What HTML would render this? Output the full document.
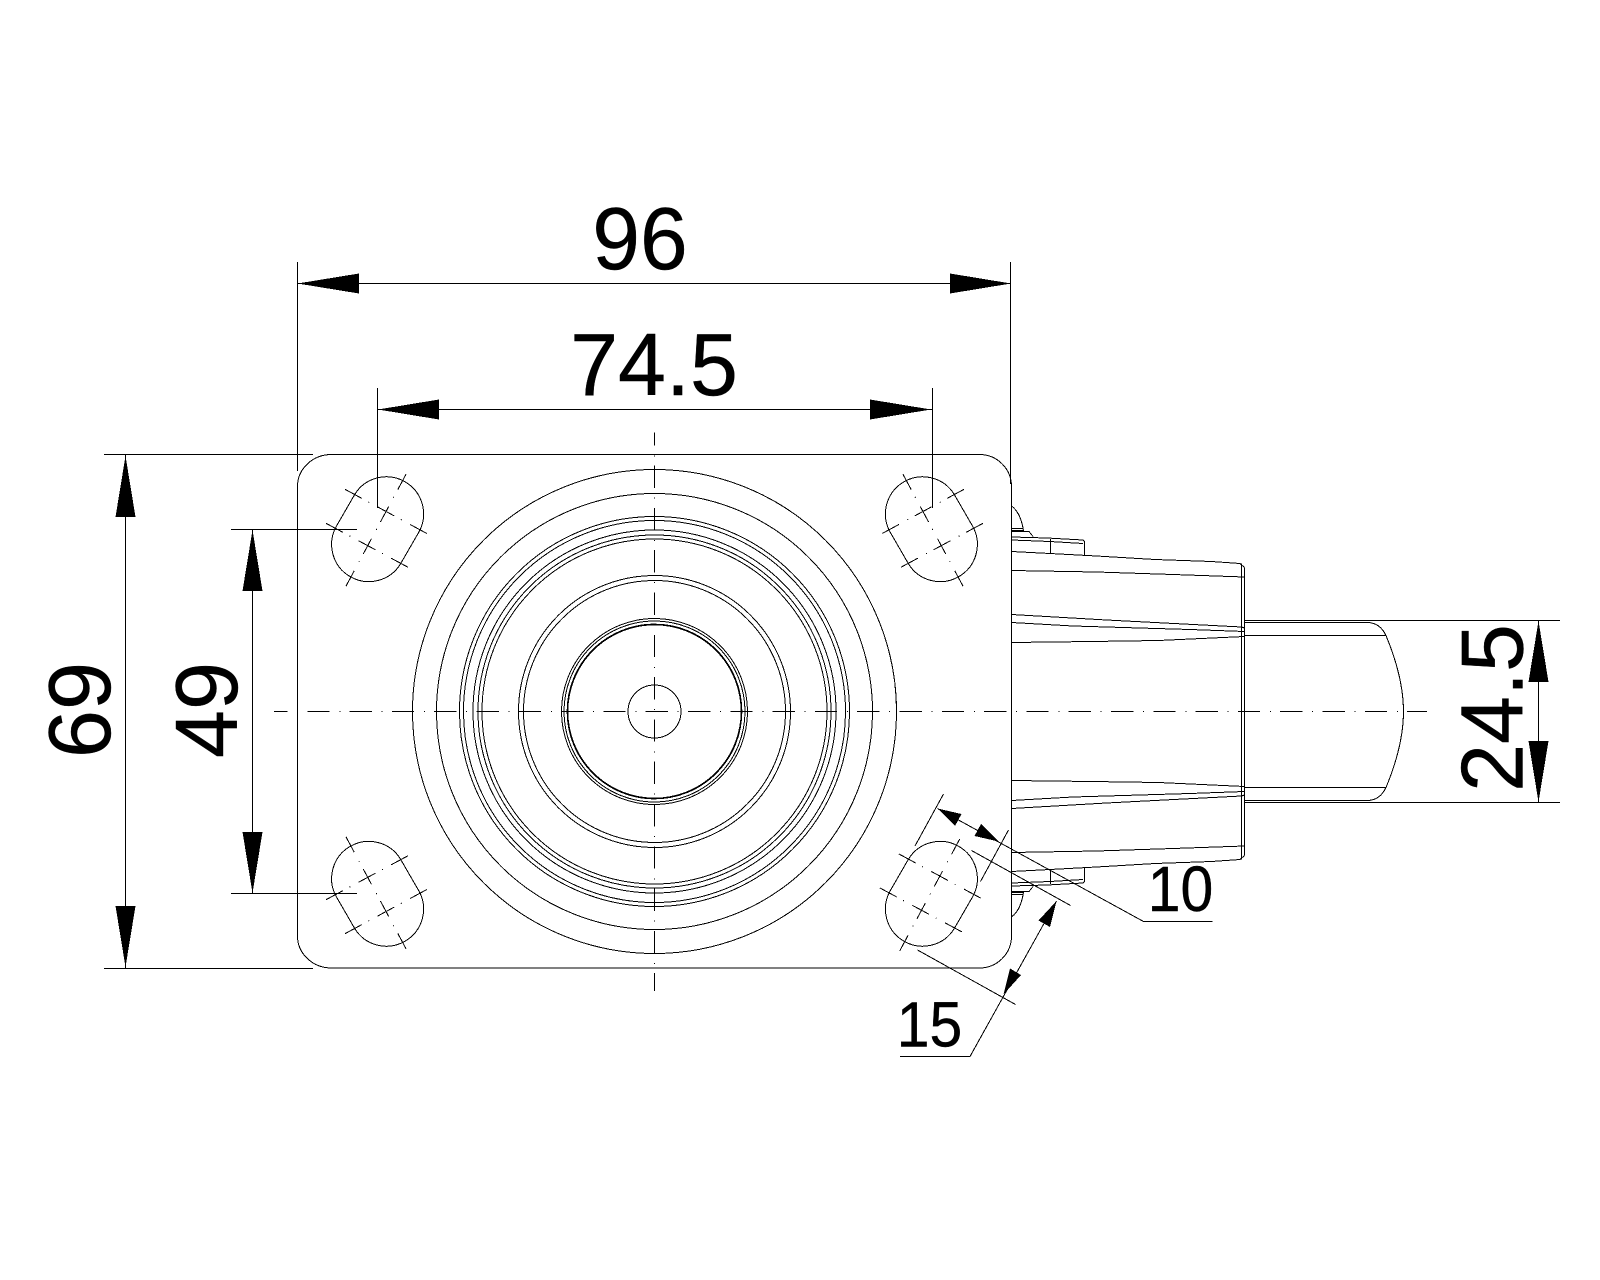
<!DOCTYPE html>
<html>
<head>
<meta charset="utf-8">
<style>
html,body{margin:0;padding:0;background:#fff;width:1600px;height:1280px;overflow:hidden}
svg{display:block}
text{font-family:"Liberation Sans",sans-serif;fill:#000;text-anchor:middle;stroke:#000;stroke-width:.4}
.l{fill:none;stroke:#000;stroke-width:1;shape-rendering:crispEdges}
.c{fill:none;stroke:#000;stroke-width:1;shape-rendering:crispEdges}
.a{fill:#000;stroke:none;shape-rendering:crispEdges}
</style>
</head>
<body>
<svg width="1600" height="1280" viewBox="0 0 1600 1280" xmlns="http://www.w3.org/2000/svg">
<rect width="1600" height="1280" fill="#fff"/>
<defs>
<g id="slot">
<path class="c" d="M-22.9,-34.7 A37.2,37.2 0 0 1 41.5,2.5 L22.9,34.7 A37.2,37.2 0 0 1 -41.5,-2.5 Z"/>
<path class="l" stroke-dasharray="17.5 8 1 10" d="M28.4,-54.9 L-31.9,57.5"/>
<path class="l" stroke-dasharray="19 7.5 1 9.5" d="M-32.6,-39.9 L50.7,5.1"/>
<path class="l" stroke-dasharray="19 7.5 1 9.5" d="M-51.6,-5.9 L32.4,39.1"/>
</g>
<g id="bracket">
<path class="c" d="M1011.5,506 Q1021,513 1023.5,531"/>
<path class="l" d="M1011.5,528.5 H1023.5 M1011.5,530.5 H1024 M1011.5,531.5 H1029 L1033,536.5"/>
<path class="l" d="M1011.5,537 L1047,538 L1083,540 L1084.5,541.5 V555"/>
<path class="l" d="M1011.5,540 L1050,541.5 L1083,543.5"/>
<path class="l" d="M1050.5,539 V553"/>
<path class="l" d="M1011.5,551.5 L1050,553.5 L1096.5,556 L1155,559.5 L1211.5,561.5 L1240,563.5 L1244.5,567.5"/>
<path class="l" d="M1011.5,570.5 L1096.5,572 L1173,574.5 L1244.5,577"/>
<path class="l" d="M1011.5,614.5 L1106.5,620 L1241.5,627 L1244.5,628"/>
<path class="l" d="M1011.5,622.5 L1073,626 L1190,629.5 L1244.5,631.5"/>
<path class="l" d="M1011.5,642.5 L1091.5,641.5 L1158.5,640.5 L1244.5,636.5"/>
<path class="l" d="M1244.5,620.5 H1560"/>
<path class="l" d="M1244.5,622.5 H1368"/>
<path class="l" d="M1244.5,635.5 H1386"/>
<path class="c" d="M1368,622.5 Q1380,623 1386,635.5 C1392,650 1403.5,680 1403.5,711.5"/>
</g>
</defs>

<!-- plate -->
<path class="c" d="M331.5,454.5 H979.5 A32,32 0 0 1 1011.5,486.5 V936 A32,32 0 0 1 979.5,968 H331.5 A34,32 0 0 1 297.5,936 V486.5 A34,32 0 0 1 331.5,454.5 Z"/>

<!-- wheel circles -->
<circle class="c" cx="654.5" cy="711.5" r="242"/>
<circle class="c" cx="654.5" cy="711.5" r="218"/>
<circle class="c" cx="654.5" cy="711.5" r="195"/>
<circle class="c" cx="654.5" cy="711.5" r="191"/>
<circle class="c" cx="654.5" cy="711.5" r="181.5"/>
<circle class="c" cx="654.5" cy="711.5" r="176.5"/>
<circle class="c" cx="654.5" cy="711.5" r="172.5"/>
<circle class="c" cx="654.5" cy="711.5" r="136"/>
<circle class="c" cx="654.5" cy="711.5" r="131"/>
<circle class="c" cx="654.5" cy="711.5" r="93"/>
<circle class="c" cx="654.5" cy="711.5" r="90.5"/>
<circle class="c" cx="654.5" cy="711.5" r="87" style="stroke-width:1.7"/>
<circle class="c" cx="654.5" cy="711.5" r="26.5"/>

<!-- slots -->
<use href="#slot" transform="translate(377.6,529.2)"/>
<use href="#slot" transform="translate(931.4,529.2) scale(-1,1)"/>
<use href="#slot" transform="translate(377.6,893.8) scale(1,-1)"/>
<use href="#slot" transform="translate(931.4,893.8)"/>

<!-- fork / bracket -->
<use href="#bracket"/>
<use href="#bracket" transform="translate(0,1423) scale(1,-1)"/>
<path class="l" d="M1241.5,563.5 V859.5 M1244.5,567.5 V855.5"/>

<!-- centre lines -->
<path class="l" stroke-dasharray="22.3 9.7 1 9.3" stroke-dashoffset="9" d="M274,711.5 H1427"/>
<path class="l" stroke-dasharray="22.3 9.7 1 9.3" stroke-dashoffset="9" d="M654.5,432.3 V991"/>

<!-- dim 96 -->
<path class="l" d="M297.5,262 V471 M1010.5,262 V484 M298,283.5 H1011"/>
<polygon class="a" points="297.5,283.5 359,273.5 359,293.5"/>
<polygon class="a" points="1011,283.5 950,273.5 950,293.5"/>
<text transform="translate(640,269) scale(.975,1)" font-size="88">96</text>

<!-- dim 74.5 -->
<path class="l" d="M377.5,388 V508 M932.5,388 V508 M378,409.5 H932"/>
<polygon class="a" points="378,409.5 439,399.5 439,419.5"/>
<polygon class="a" points="931,409.5 870,399.5 870,419.5"/>
<text transform="translate(654,395) scale(.98,1)" font-size="88">74.5</text>

<!-- dim 69 -->
<path class="l" d="M104,454.5 H313 M104,968.5 H313 M125.5,455 V968"/>
<polygon class="a" points="125.5,456 115.5,517 135.5,517"/>
<polygon class="a" points="125.5,967 115.5,906 135.5,906"/>
<text transform="translate(110,710) rotate(-90) scale(.98,1)" font-size="88">69</text>

<!-- dim 49 -->
<path class="l" d="M231,529.5 H357 M231,893.5 H357 M252.5,530 V893"/>
<polygon class="a" points="252.5,530 242.5,591 262.5,591"/>
<polygon class="a" points="252.5,893 242.5,832 262.5,832"/>
<text transform="translate(237,710) rotate(-90) scale(.98,1)" font-size="88">49</text>

<!-- dim 24.5 -->
<path class="l" d="M1538.5,620 V802"/>
<polygon class="a" points="1538.5,621 1528.5,682 1548.5,682"/>
<polygon class="a" points="1538.5,802 1528.5,741 1548.5,741"/>
<text transform="translate(1522.5,708) rotate(-90) scale(.98,1)" font-size="88">24.5</text>

<!-- dim 10 -->
<path class="l" d="M943.5,794 L915,846 M1008.5,830 L980.5,881.5 M937.5,808.5 L1143.5,921.5 H1212.5"/>
<polygon class="a" points="937.5,808.5 961.5,814 955,826"/>
<polygon class="a" points="998.5,841.5 974.5,836 981,824"/>
<text transform="translate(1180.5,911) scale(.92,1)" font-size="64">10</text>

<!-- dim 15 -->
<path class="l" d="M971.5,850.5 L1070.5,905.5 M917.5,950 L1015.5,1004.5 M1056.5,901 L970,1056.5 H900"/>
<polygon class="a" points="1056.5,901 1050,927 1038.5,920.5"/>
<polygon class="a" points="1003.5,994.5 1010,968.5 1021,975"/>
<text transform="translate(929.5,1046.5) scale(.92,1)" font-size="64">15</text>
</svg>
</body>
</html>
